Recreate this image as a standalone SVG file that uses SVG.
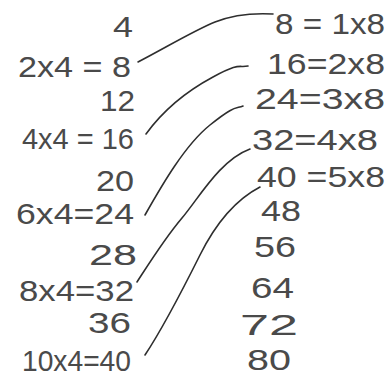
<svg xmlns="http://www.w3.org/2000/svg" width="392" height="379" viewBox="0 0 392 379">
<style>
text{font-family:"Liberation Sans","DejaVu Sans",sans-serif;fill:#4a4a4a;font-size:30px;}
.c{fill:none;stroke:#2e2e2e;stroke-width:1.6;stroke-linecap:round;}
</style>
<rect width="392" height="379" fill="#ffffff"/>
<g id="left">
<g id="l4"><text x="113" y="37" textLength="20" lengthAdjust="spacingAndGlyphs">4</text></g>
<g id="l8"><text x="18" y="77" textLength="113" lengthAdjust="spacingAndGlyphs">2x4 = 8</text></g>
<g id="l12"><text x="100" y="111" textLength="35" lengthAdjust="spacingAndGlyphs">12</text></g>
<g id="l16"><text x="22" y="149" textLength="112" lengthAdjust="spacingAndGlyphs">4x4 = 16</text></g>
<g id="l20"><text x="96" y="191" textLength="38" lengthAdjust="spacingAndGlyphs">20</text></g>
<g id="l24"><text x="16" y="224" textLength="118" lengthAdjust="spacingAndGlyphs">6x4=24</text></g>
<g id="l28"><text x="89" y="265" textLength="48" lengthAdjust="spacingAndGlyphs">28</text></g>
<g id="l32"><text x="19" y="301" font-size="29" textLength="115" lengthAdjust="spacingAndGlyphs">8x4=32</text></g>
<g id="l36"><text x="88" y="333" font-size="29" textLength="43" lengthAdjust="spacingAndGlyphs">36</text></g>
<g id="l40"><text x="22" y="371" font-size="29" textLength="109" lengthAdjust="spacingAndGlyphs">10x4=40</text></g>
</g>
<g id="right">
<g id="r8"><text x="275" y="34" textLength="110" lengthAdjust="spacingAndGlyphs">8 = 1x8</text></g>
<g id="r16"><text x="267" y="74" textLength="118" lengthAdjust="spacingAndGlyphs">16=2x8</text></g>
<g id="r24"><text x="255" y="109" textLength="130" lengthAdjust="spacingAndGlyphs">24=3x8</text></g>
<g id="r32"><text x="252" y="150" textLength="126" lengthAdjust="spacingAndGlyphs">32=4x8</text></g>
<g id="r40"><text x="257" y="187" textLength="128" lengthAdjust="spacingAndGlyphs">40 =5x8</text></g>
<g id="r48"><text x="261" y="221" textLength="40" lengthAdjust="spacingAndGlyphs">48</text></g>
<g id="r56"><text x="254" y="257" textLength="42" lengthAdjust="spacingAndGlyphs">56</text></g>
<g id="r64"><text x="251" y="298" textLength="43" lengthAdjust="spacingAndGlyphs">64</text></g>
<g id="r72"><text x="240" y="335" textLength="58" lengthAdjust="spacingAndGlyphs">72</text></g>
<g id="r80"><text x="247" y="370" textLength="44" lengthAdjust="spacingAndGlyphs">80</text></g>
</g>
<g id="connectors">
<path class="c" d="M138,62 C165,48 195,30 215,22 S255,13 273,14"/>
<path class="c" d="M146,134 C162,112 185,92 213,77 S238,68 248,66"/>
<path class="c" d="M145,215 C162,185 185,145 210,125 S235,109 243,106"/>
<path class="c" d="M137,282 C150,262 165,238 182,218 S220,160 250,149"/>
<path class="c" d="M145,355 C165,325 185,285 200,255 S235,200 260,187"/>
</g>
</svg>
